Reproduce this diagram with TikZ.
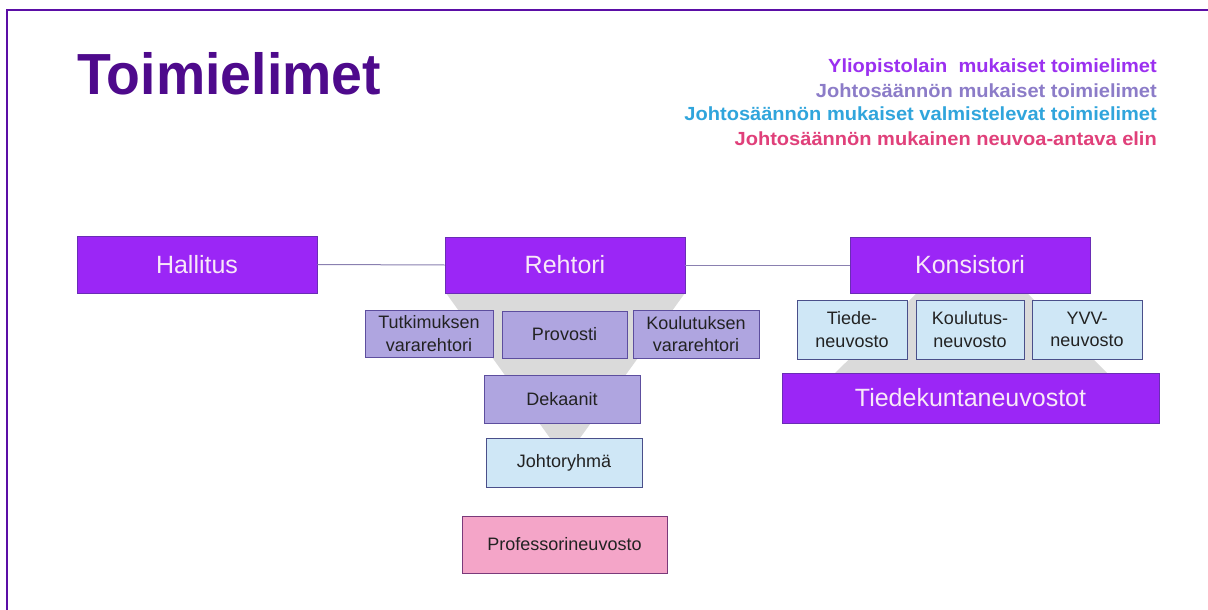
\documentclass[tikz,border=0pt]{standalone}
\usepackage{fontspec}
\setmainfont{Liberation Sans}
\definecolor{framepurple}{HTML}{5B0EA6}
\definecolor{titlepurple}{HTML}{4E0A8C}
\definecolor{bigfill}{HTML}{9B26F6}
\definecolor{bigdraw}{HTML}{6A2DB5}
\definecolor{bigtext}{HTML}{F8E8F8}
\definecolor{lavfill}{HTML}{AFA5E0}
\definecolor{lavdraw}{HTML}{5D4E9E}
\definecolor{bluefill}{HTML}{CFE7F6}
\definecolor{bluedraw}{HTML}{4A4F8A}
\definecolor{pinkfill}{HTML}{F4A5C8}
\definecolor{pinkdraw}{HTML}{7A3A7A}
\definecolor{funnelgray}{HTML}{DADADA}
\definecolor{linkcol}{HTML}{8A80B0}
\definecolor{legA}{HTML}{9B30F0}
\definecolor{legB}{HTML}{8C7CC8}
\definecolor{legC}{HTML}{30A5DC}
\definecolor{legD}{HTML}{E0407A}
\definecolor{smalltext}{HTML}{222222}
\tikzset{
  bigbox/.style={draw=bigdraw, fill=bigfill, text=bigtext, line width=0.8pt, inner sep=0pt,
    font=\fontsize{25}{30}\selectfont},
  lavbox/.style={draw=lavdraw, fill=lavfill, text=smalltext, line width=0.8pt, inner sep=0pt,
    align=center, font=\fontsize{18}{22.5}\selectfont},
  bluebox/.style={draw=bluedraw, fill=bluefill, text=smalltext, line width=0.8pt, inner sep=0pt,
    align=center, font=\fontsize{18}{22.5}\selectfont},
  pinkbox/.style={draw=pinkdraw, fill=pinkfill, text=smalltext, line width=0.8pt, inner sep=0pt,
    align=center, font=\fontsize{18}{22.5}\selectfont},
  legend/.style={anchor=base east, inner sep=0pt, font=\bfseries\fontsize{19}{22}\selectfont},
  link/.style={draw=linkcol, line width=1pt},
  funnel/.style={fill=funnelgray}
}
\newcommand{\legstretch}[1]{\scalebox{1.055}[1]{#1}}
\begin{document}
\begin{tikzpicture}[x=1pt,y=-1pt]
\useasboundingbox (0,0) rectangle (1208,610);
\fill[white] (0,0) rectangle (1208,610);
% frame
\coordinate (fbl) at (7,612);
\coordinate (ftl) at (7,10);
\coordinate (ftr) at (1210,10);
\draw[framepurple, line width=2pt] (fbl) -- (ftl) -- (ftr);
% title
\node[anchor=base west, inner sep=0pt, text=titlepurple, font=\bfseries\fontsize{58}{64}\selectfont] (title) at (77,95) {\scalebox{0.955}[1]{Toimielimet}};
% legend
\node[legend, text=legA] (legA) at (1157,73) {\legstretch{Yliopistolain \ mukaiset toimielimet}};
\node[legend, text=legB] (legB) at (1157,97) {\legstretch{Johtosäännön mukaiset toimielimet}};
\node[legend, text=legC] (legC) at (1157,121) {\legstretch{Johtosäännön mukaiset valmistelevat toimielimet}};
\node[legend, text=legD] (legD) at (1157,145) {\legstretch{Johtosäännön mukainen neuvoa-antava elin}};
% funnels
\fill[funnel] (446,293) -- (685,293) -- (580,438) -- (550,438) -- cycle;
\fill[funnel] (917,293) -- (1027,293) -- (1107,373) -- (835,373) -- cycle;
% top level
\node[bigbox, minimum width=240pt, minimum height=57pt] (hallitus) at (197,264.5) {Hallitus};
\node[bigbox, minimum width=240pt, minimum height=56pt] (rehtori) at (565,265) {Rehtori};
\node[bigbox, minimum width=240pt, minimum height=56pt] (konsistori) at (970,265) {Konsistori};
\draw[link] (hallitus.east) -- (rehtori.west);
\draw[link] (rehtori.east) -- (konsistori.west);
% rehtori side
\node[lavbox, minimum width=128pt, minimum height=47pt] (tutk) at (429,333.5) {Tutkimuksen\\vararehtori};
\node[lavbox, minimum width=125pt, minimum height=47pt] (provosti) at (564.5,334.5) {Provosti};
\node[lavbox, minimum width=126pt, minimum height=48pt] (koul) at (696,334) {Koulutuksen\\vararehtori};
\node[lavbox, minimum width=156pt, minimum height=48pt] (dekaanit) at (562,399) {Dekaanit};
\node[bluebox, minimum width=156pt, minimum height=49pt] (johto) at (564,462.5) {Johtoryhmä};
\node[pinkbox, minimum width=205pt, minimum height=57pt] (prof) at (564.5,544.5) {Professorineuvosto};
% konsistori side
\node[bluebox, minimum width=110pt, minimum height=59pt] (tiede) at (852,329.5) {Tiede-\\neuvosto};
\node[bluebox, minimum width=108pt, minimum height=59pt] (koulutus) at (970,329.5) {Koulutus-\\neuvosto};
\node[bluebox, minimum width=110pt, minimum height=59pt] (yvv) at (1087,329.5) {YVV-\\neuvosto};
\node[bigbox, minimum width=377pt, minimum height=50pt] (tiedekunta) at (970.5,398) {Tiedekuntaneuvostot};
\end{tikzpicture}
\end{document}
